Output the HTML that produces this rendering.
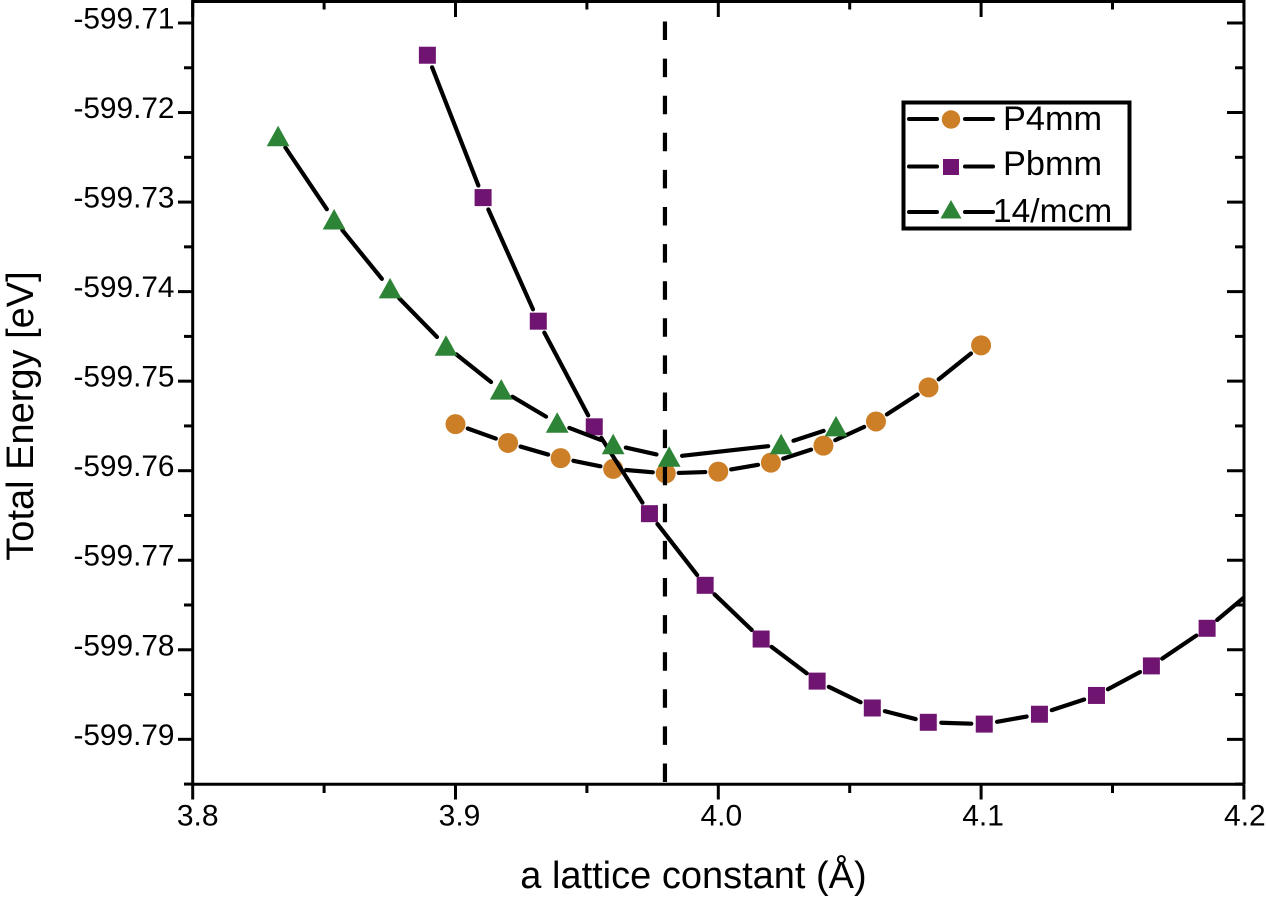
<!DOCTYPE html>
<html lang="en">
<head>
<meta charset="utf-8">
<title>Total Energy vs a lattice constant</title>
<style>
  html, body { margin: 0; padding: 0; background: #fff; }
  body { width: 1266px; height: 898px; overflow: hidden; }
  svg { display: block; }
  text { font-family: "Liberation Sans", Arial, sans-serif; fill: #000; }
</style>
</head>
<body>
<svg id="chart" xmlns="http://www.w3.org/2000/svg" width="1266" height="898" viewBox="0 0 1266 898">
  <defs>
    <clipPath id="plot-clip"><rect x="192.7" y="0" width="1051.3" height="784"></rect></clipPath>
  </defs>
  <rect x="0" y="0" width="1266" height="898" fill="#ffffff"></rect>
  <g id="series-layer" clip-path="url(#plot-clip)"></g>
  <g id="axes-layer"></g>
  <text x="693.5" y="888" font-size="38" text-anchor="middle">a lattice constant (Å)</text>
  <text transform="translate(33,416) rotate(-90)" font-size="38" text-anchor="middle">Total Energy [eV]</text>
  <g id="legend">
    <rect x="903.5" y="102.5" width="226" height="126" fill="#ffffff" stroke="#000" stroke-width="4"></rect>
    <g>
      <line x1="909" x2="937" y1="119" y2="119" stroke="#000" stroke-width="4" stroke-linecap="round"></line>
      <line x1="965" x2="993" y1="119" y2="119" stroke="#000" stroke-width="4" stroke-linecap="round"></line>
      <circle cx="951" cy="119.5" r="9.2" fill="#cc7f26"></circle>
      <text x="1003" y="130" font-size="34.3">P4mm</text>
    </g>
    <g>
      <line x1="909" x2="937" y1="166.5" y2="166.5" stroke="#000" stroke-width="4" stroke-linecap="round"></line>
      <line x1="965" x2="993" y1="166.5" y2="166.5" stroke="#000" stroke-width="4" stroke-linecap="round"></line>
      <rect x="943" y="159" width="16" height="16" fill="#6f1470"></rect>
      <text x="1003" y="175" font-size="34.3">Pbmm</text>
    </g>
    <g>
      <line x1="909" x2="937" y1="212" y2="212" stroke="#000" stroke-width="4" stroke-linecap="round"></line>
      <line x1="965" x2="993" y1="212" y2="212" stroke="#000" stroke-width="4" stroke-linecap="round"></line>
      <polygon points="951,200 940.5,218.5 961.5,218.5" fill="#2e8436"></polygon>
      <text x="993" y="222" font-size="33.5">14/mcm</text>
    </g>
  </g>
</svg>
<script>
var xMajorTicks = [3.8, 3.9, 4.0, 4.1, 4.2];
var xMajorLabels = ['3.8', '3.9', '4.0', '4.1', '4.2'];
var xMinorTicks = [3.85, 3.95, 4.05, 4.15];
var yMajorTicks = [-599.71, -599.72, -599.73, -599.74, -599.75, -599.76, -599.77, -599.78, -599.79];
var yMajorLabels = ['-599.71', '-599.72', '-599.73', '-599.74', '-599.75', '-599.76', '-599.77', '-599.78', '-599.79'];
var yMinorTicks = [-599.715, -599.725, -599.735, -599.745, -599.755, -599.765, -599.775, -599.785, -599.795];

var p4mmA = [3.90, 3.92, 3.94, 3.96, 3.98, 4.00, 4.02, 4.04, 4.06, 4.08, 4.10];
var p4mmEnergy = [-599.7548, -599.7569, -599.7586, -599.7598, -599.7603, -599.7601, -599.7591, -599.7572, -599.7545, -599.7507, -599.7460];

var pbmmA = [3.8893, 3.9105, 3.9315, 3.9528, 3.9738, 3.9950, 4.0163, 4.0376, 4.0586, 4.0799, 4.1012, 4.1222, 4.1439, 4.1648, 4.1860, 4.2072];
var pbmmEnergy = [-599.7136, -599.7295, -599.7433, -599.7551, -599.7648, -599.7728, -599.7788, -599.7835, -599.7865, -599.7881, -599.7883, -599.7872, -599.7851, -599.7818, -599.7776, -599.7724];

var i4mcmA = [3.8325, 3.8538, 3.8751, 3.8964, 3.9174, 3.9387, 3.9600, 3.9813, 4.0239, 4.0448];
var i4mcmEnergy = [-599.7227, -599.7320, -599.7397, -599.7461, -599.7510, -599.7547, -599.7571, -599.7585, -599.7571, -599.7551];

var equilibriumA = [3.9797];

var SVGNS = 'http://www.w3.org/2000/svg';
var LEFT = 192.7, RIGHT = 1244, TOP = 1.5, BOTTOM = 784.3;
function xScale(v) { return LEFT + (v - 3.8) * 2628; }
function yScale(v) { return 23 + (-599.71 - v) * 8954; }
function xLabelPos(v) { return xScale(v) + 5 - (v - 3.8) * 10; }

var seriesLayer = document.getElementById('series-layer');
var axesLayer = document.getElementById('axes-layer');

function make(tag, parent, attrs, text) {
  var node = document.createElementNS(SVGNS, tag);
  for (var k in attrs) { node.setAttribute(k, attrs[k]); }
  if (text !== undefined) { node.textContent = text; }
  parent.appendChild(node);
  return node;
}

function drawLine(parent, x1, y1, x2, y2, width, cap) {
  return make('line', parent, { x1: x1, y1: y1, x2: x2, y2: y2, stroke: '#000', 'stroke-width': width, 'stroke-linecap': cap || 'butt' });
}

function drawAxes() {
  var el;
  el = drawLine(axesLayer, LEFT, TOP - 1.5, LEFT, BOTTOM, 3);
  
  
  el = drawLine(axesLayer, RIGHT, TOP - 1.5, RIGHT, BOTTOM, 3);
  
  
  el = drawLine(axesLayer, LEFT, TOP, RIGHT, TOP, 3);
  
  
  el = drawLine(axesLayer, LEFT, BOTTOM, RIGHT, BOTTOM, 3);
  
  

  xMajorTicks.forEach(function (v, i) {
    var x = xScale(v);
    var t = drawLine(axesLayer, x, BOTTOM, x, 799.5, 3);
    
    
    var tt = drawLine(axesLayer, x, TOP, x, 17, 3);
    
    
    var lab = make('text', axesLayer, { x: xLabelPos(v), y: 825.5, 'font-size': 30, 'text-anchor': 'middle' }, xMajorLabels[i]);
    
    
  });
  xMinorTicks.forEach(function (v) {
    var x = xScale(v);
    var t = drawLine(axesLayer, x, BOTTOM, x, 793, 3);
    
    
    var tt = drawLine(axesLayer, x, TOP, x, 9.5, 3);
    
    
  });
  yMajorTicks.forEach(function (v, i) {
    var y = yScale(v);
    var t = drawLine(axesLayer, 178, y, LEFT, y, 3);
    
    
    var tr = drawLine(axesLayer, 1227, y, RIGHT, y, 3);
    
    
    var lab = make('text', axesLayer, { x: 174.5, y: y + 5.5, 'font-size': 29.8, 'text-anchor': 'end' }, yMajorLabels[i]);
    
    
  });
  yMinorTicks.forEach(function (v) {
    var y = yScale(v);
    var t = drawLine(axesLayer, 184, y, LEFT, y, 3);
    
    
    var tr = drawLine(axesLayer, 1235, y, RIGHT, y, 3);
    
    
  });
}

function drawSegments(group, xs, ys) {
  var GAP = 13;
  for (var i = 0; i + 1 < xs.length; i++) {
    var x1 = xScale(xs[i]), y1 = yScale(ys[i]), x2 = xScale(xs[i + 1]), y2 = yScale(ys[i + 1]);
    var d = Math.sqrt((x2 - x1) * (x2 - x1) + (y2 - y1) * (y2 - y1));
    if (d <= GAP * 2) { continue; }
    var ux = (x2 - x1) / d, uy = (y2 - y1) / d;
    var seg = drawLine(group, x1 + ux * GAP, y1 + uy * GAP, x2 - ux * GAP, y2 - uy * GAP, 4.2, 'round');
    
    
  }
}

function drawP4mm() {
  var g = make('g', seriesLayer, {});
  
  
  drawSegments(g, p4mmA, p4mmEnergy);
  p4mmA.forEach(function (a, i) {
    var m = make('circle', g, { cx: xScale(a), cy: yScale(p4mmEnergy[i]), r: 10, fill: '#cc7f26' });
    
    
  });
}

function drawPbmm() {
  var g = make('g', seriesLayer, {});
  
  
  drawSegments(g, pbmmA, pbmmEnergy);
  pbmmA.forEach(function (a, i) {
    var m = make('rect', g, { x: xScale(a) - 8.5, y: yScale(pbmmEnergy[i]) - 8.5, width: 17, height: 17, fill: '#6f1470' });
    
    
  });
}

function drawEquilibrium() {
  equilibriumA.forEach(function (a) {
    var x = xScale(a);
    var l = make('line', seriesLayer, { x1: x, x2: x, y1: 21.5, y2: BOTTOM, stroke: '#000', 'stroke-width': 4.2, 'stroke-dasharray': '18.5 18.6' });
    
    
  });
}

function drawI4mcm() {
  var g = make('g', seriesLayer, {});
  
  
  drawSegments(g, i4mcmA, i4mcmEnergy);
  i4mcmA.forEach(function (a, i) {
    var cx = xScale(a), cy = yScale(i4mcmEnergy[i]);
    var pts = cx + ',' + (cy - 11) + ' ' + (cx - 11.4) + ',' + (cy + 9.5) + ' ' + (cx + 11.4) + ',' + (cy + 9.5);
    var m = make('polygon', g, { points: pts, fill: '#2e8436' });
    
    
  });
}

drawP4mm();
drawPbmm();
drawEquilibrium();
drawI4mcm();
drawAxes();
</script>
</body>
</html>
